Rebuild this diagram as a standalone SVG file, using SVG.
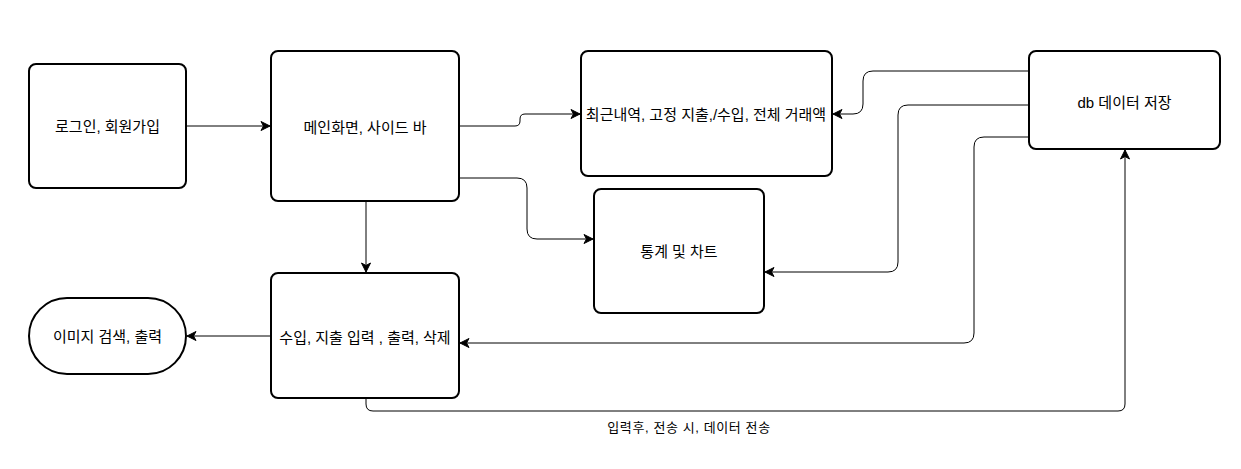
<svg xmlns="http://www.w3.org/2000/svg" width="1241" height="469" viewBox="0 0 1241 469">
<style>
.n{fill:#fff;stroke:#000;stroke-width:2}
.t{font-family:"Liberation Sans","Noto Sans CJK KR",sans-serif;font-size:15px;fill:#000;text-anchor:middle;dominant-baseline:central}
.e{fill:none;stroke:#000;stroke-width:1}
.lbl{font-family:"Liberation Sans","Noto Sans CJK KR",sans-serif;font-size:13px;letter-spacing:0.6px;fill:#000;text-anchor:middle;dominant-baseline:central}
</style>
<defs>
<marker id="a" markerWidth="12" markerHeight="12" refX="10" refY="6" orient="auto" markerUnits="userSpaceOnUse">
<path d="M1,1.5 L10,6 L1,10.5 L3.5,6 Z" fill="#000" stroke="#000" stroke-width="1"/>
</marker>
</defs>
<rect width="1241" height="469" fill="#fff"/>
<g id="connectors">
<path class="e" d="M186,126 L270,126" marker-end="url(#a)"/>
<path class="e" d="M459,126 L515,126 Q520,126 520,121 L520,119 Q520,114 525,114 L580,114" marker-end="url(#a)"/>
<path class="e" d="M459,178 L517,178 Q527,178 527,188 L527,229 Q527,239 537,239 L593,239" marker-end="url(#a)"/>
<path class="e" d="M366,201 L366,272" marker-end="url(#a)"/>
<path class="e" d="M271,336 L187,336" marker-end="url(#a)"/>
<path class="e" d="M1029,71 L873,71 Q863,71 863,81 L863,104 Q863,114 853,114 L833,114" marker-end="url(#a)"/>
<path class="e" d="M1029,105 L908,105 Q898,105 898,115 L898,262 Q898,272 888,272 L765,272" marker-end="url(#a)"/>
<path class="e" d="M1029,137 L984,137 Q974,137 974,147 L974,333 Q974,343 964,343 L460,343" marker-end="url(#a)"/>
<path class="e" d="M366,398 L366,404 Q366,411 373,411 L1118,411 Q1125,411 1125,404 L1125,150" marker-end="url(#a)"/>
<text class="lbl" x="689" y="427">입력후, 전송 시, 데이터 전송</text>
</g>
<g id="login">
<rect class="n" x="29" y="64" width="157" height="124" rx="7"/>
<text class="t" x="107.5" y="126">로그인, 회원가입</text>
</g>
<g id="main">
<rect class="n" x="271" y="51" width="188" height="150" rx="7"/>
<text class="t" x="365" y="127">메인화면, 사이드 바</text>
</g>
<g id="recent">
<rect class="n" x="581" y="51" width="251" height="125" rx="7"/>
<text class="t" x="706" y="114">최근내역, 고정 지출,/수입, 전체 거래액</text>
</g>
<g id="stats">
<rect class="n" x="594" y="189" width="170" height="124" rx="7"/>
<text class="t" x="679" y="251">통계 및 차트</text>
</g>
<g id="db">
<rect class="n" x="1029" y="51" width="191" height="98" rx="7"/>
<text class="t" x="1124.5" y="102">db 데이터 저장</text>
</g>
<g id="input">
<rect class="n" x="271" y="273" width="188" height="125" rx="7"/>
<text class="t" x="365" y="337">수입, 지출 입력 , 출력, 삭제</text>
</g>
<g id="image">
<rect class="n" x="29" y="298" width="157" height="76" rx="38"/>
<text class="t" x="107.5" y="336">이미지 검색, 출력</text>
</g>
</svg>
